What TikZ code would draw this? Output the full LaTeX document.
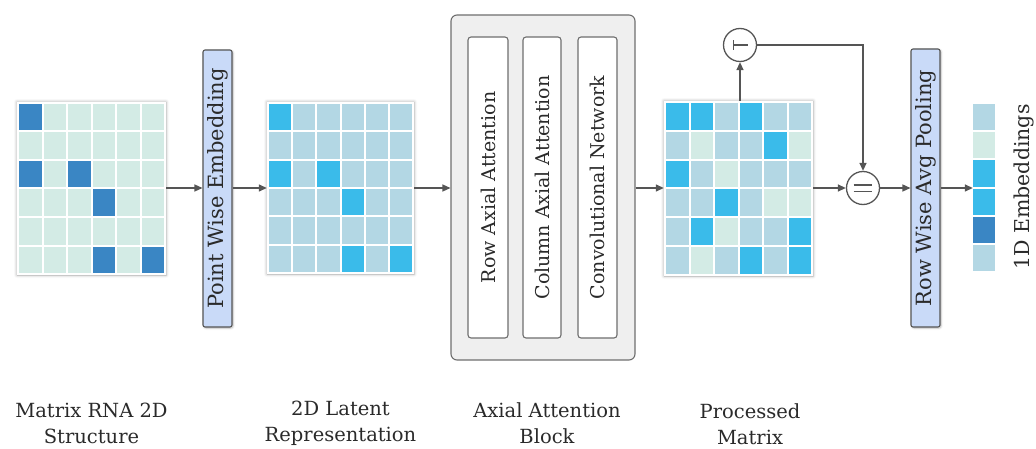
\documentclass[tikz,border=0pt]{standalone}
\usepackage{fontspec}
\setmainfont{DejaVu Serif}
\usetikzlibrary{arrows.meta,shadows.blur}
\definecolor{cM}{HTML}{D3EBE5}
\definecolor{cL}{HTML}{B3D7E4}
\definecolor{cB}{HTML}{3ABBEA}
\definecolor{cD}{HTML}{3A86C4}
\definecolor{bluebox}{HTML}{C9DAF8}
\definecolor{blockfill}{HTML}{EFEFEF}
\definecolor{linec}{HTML}{555555}
\definecolor{textc}{HTML}{2A2A2A}
\tikzset{
  conn/.style={draw=linec, line width=1.4pt, -{Triangle[length=8pt,width=7pt]}},
  plain/.style={draw=linec, line width=1.4pt},
  matbox/.style={draw=none, fill=white, inner sep=0pt, blur shadow={shadow xshift=0pt, shadow yshift=0pt, shadow blur radius=3pt, shadow opacity=35}},
  barbox/.style={draw=linec, line width=1.1pt, fill=bluebox, rounded corners=2pt, inner sep=0pt, blur shadow={shadow xshift=1pt, shadow yshift=-1pt, shadow blur radius=2pt, shadow opacity=30}},
  innerbox/.style={draw=linec!85, line width=1.1pt, fill=white, rounded corners=3pt, inner sep=0pt},
  opcirc/.style={circle, draw=linec, line width=1.3pt, fill=white, minimum size=33pt, inner sep=0pt},
  lbl/.style={font=\fontsize{19.5}{26}\selectfont, text=textc, align=center, inner sep=0pt},
  vlbl/.style={font=\fontsize{19}{20}\selectfont, text=textc, rotate=90, inner sep=0pt},
  barlbl/.style={font=\fontsize{21}{22}\selectfont, text=textc, rotate=90, inner sep=0pt},
}
% #1 x0, #2 y0, #3 x1, #4 y1, #5 rows
\newcommand\cellgrid[5]{%
  \pgfmathsetmacro\pxw{(#3-#1-2)/6}%
  \pgfmathsetmacro\pxh{(#4-#2-2)/6}%
  \foreach \row [count=\r from 0] in {#5} {%
    \foreach \c [count=\k from 0] in \row {%
      \fill[\c] ({#1+1+\k*\pxw+1},{#2+1+\r*\pxh+1}) rectangle ({#1+1+(\k+1)*\pxw-1},{#2+1+(\r+1)*\pxh-1});
    }%
  }%
}
\begin{document}
\begin{tikzpicture}[x=1pt,y=-1pt]
\useasboundingbox (0,0) rectangle (1036,449);

% Matrix 1
\node[matbox, minimum width=149pt, minimum height=173pt] (m1) at (91.5,188.5) {};
\cellgrid{17}{102}{166}{275}{{cD,cM,cM,cM,cM,cM},{cM,cM,cM,cM,cM,cM},{cD,cM,cD,cM,cM,cM},{cM,cM,cM,cD,cM,cM},{cM,cM,cM,cM,cM,cM},{cM,cM,cM,cD,cM,cD}}

% Point wise embedding
\node[barbox, minimum width=29pt, minimum height=277pt] (pwe) at (217.5,188.5) {};
\node[barlbl] (pwet) at (pwe.center) {Point Wise Embedding};

% Matrix 2
\node[matbox, minimum width=147pt, minimum height=172pt] (m2) at (340.5,188) {};
\cellgrid{267}{102}{414}{274}{{cB,cL,cL,cL,cL,cL},{cL,cL,cL,cL,cL,cL},{cB,cL,cB,cL,cL,cL},{cL,cL,cL,cB,cL,cL},{cL,cL,cL,cL,cL,cL},{cL,cL,cL,cB,cL,cB}}

% Axial attention block
\node[draw=linec!85, line width=1.1pt, fill=blockfill, rounded corners=6pt, minimum width=184pt, minimum height=345pt, inner sep=0pt] (blk) at (543,187.5) {};
\node[innerbox, minimum width=40pt, minimum height=301pt] (rowa) at (488,187.5) {};
\node[vlbl] (rowat) at (rowa.center) {Row Axial Attention};
\node[innerbox, minimum width=38pt, minimum height=301pt] (cola) at (542,187.5) {};
\node[vlbl] (colat) at (cola.center) {Column Axial Attention};
\node[innerbox, minimum width=39pt, minimum height=301pt] (conv) at (597.5,187.5) {};
\node[vlbl] (convt) at (conv.center) {Convolutional Network};

% Matrix 3
\node[matbox, minimum width=149pt, minimum height=175pt] (m3) at (738.5,188.5) {};
\cellgrid{664}{101}{813}{276}{{cB,cB,cL,cB,cL,cL},{cL,cM,cL,cL,cB,cM},{cB,cL,cM,cL,cL,cL},{cL,cL,cB,cL,cM,cM},{cL,cB,cM,cL,cL,cB},{cL,cM,cL,cB,cL,cB}}

% Transpose circle
\node[opcirc] (tc) at (740,45) {};
\draw[plain] (733.5,40.5) -- (733.5,50);
\draw[plain] (733.5,45) -- (748,45);

% Equal circle
\node[opcirc] (eq) at (863,188) {};
\draw[plain] (853.5,185) -- (872,185);
\draw[plain] (853.5,191.5) -- (872,191.5);

% Row wise pooling
\node[barbox, minimum width=29pt, minimum height=278pt] (pool) at (925.5,188) {};
\node[barlbl] (poolt) at (pool.center) {Row Wise Avg Pooling};

% 1D embeddings
\node[inner sep=0pt, minimum width=22pt, minimum height=169pt] (emb) at (984,187.5) {};
\foreach \c [count=\k from 0] in {cL,cM,cB,cB,cD,cL} {
  \fill[\c] (973,{103+\k*28.17+1}) rectangle (995,{103+(\k+1)*28.17-1});
}
\node[barlbl, font=\fontsize{20.5}{22}\selectfont] (embt) at (1024,187) {1D Embeddings};

% connectors
\coordinate (ay) at (0,188);
\draw[conn] (m1.east |- ay) -- (pwe.west |- ay);
\draw[conn] (pwe.east |- ay) -- (m2.west |- ay);
\draw[conn] (m2.east |- ay) -- (blk.west |- ay);
\draw[conn] (blk.east |- ay) -- (m3.west |- ay);
\draw[conn] (tc.south |- m3.north) -- (tc.south);
\draw[conn] (tc.east) -| (eq.north);
\draw[conn] (m3.east |- ay) -- (eq.west);
\draw[conn] (eq.east) -- (pool.west |- ay);
\draw[conn] (pool.east |- ay) -- (emb.west |- ay);

% bottom labels
\node[lbl] (l1) at (91.5,423) {Matrix RNA 2D\\Structure};
\node[lbl] (l2) at (340.5,423) {2D Latent\\Representation};
\node[lbl] (l3) at (547,423) {Axial Attention\\Block};
\node[lbl] (l4) at (750,424) {Processed\\Matrix};
\end{tikzpicture}
\end{document}
